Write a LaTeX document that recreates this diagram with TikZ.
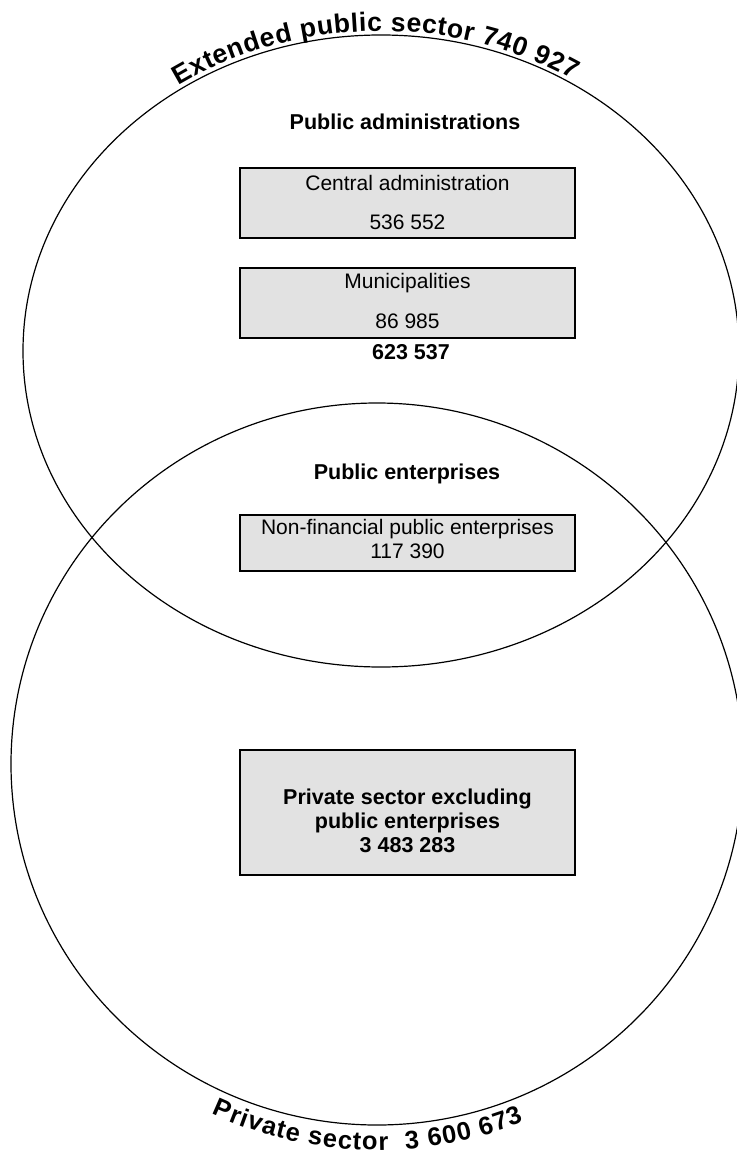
\documentclass[tikz,border=0pt]{standalone}
\usepackage{fontspec}
\setmainfont{Liberation Sans}
\usepackage{xcolor}
\usepackage{tikz}
\usetikzlibrary{positioning,calc,decorations.text}
\definecolor{boxgray}{HTML}{E2E2E2}
\begin{document}
\begin{tikzpicture}[
    x=1pt,y=1pt,
    secteur/.style = {draw=black,line width=1.2pt},
    boite/.style   = {rectangle,draw=black,line width=1.6pt,fill=boxgray,
                      minimum width=335,inner sep=0pt},
    txt/.style     = {anchor=base,inner sep=0pt,font=\fontsize{21}{24}\selectfont},
    titre/.style   = {anchor=base,inner sep=0pt,font=\fontsize{21.5}{24}\selectfont\bfseries},
  ]

  \useasboundingbox (0,0) rectangle (736,-1155);

  % the two sectors
  \coordinate (pubc)  at (381,-351);
  \coordinate (privc) at (377,-764);
  \draw[secteur] (pubc)  ellipse[x radius=358,y radius=316];
  \draw[secteur] (privc) ellipse[x radius=366,y radius=361];

  \path[decorate,decoration={text along path,text align={fit to path},
        text={|\fontsize{26.5}{26}\selectfont\bfseries|Extended public sector 740 927}}]
       ($(pubc)+(124:362 and 320)$) arc[start angle=124,end angle=58,
                                        x radius=362,y radius=320];
  \path[decorate,decoration={text along path,text align={fit to path},
        text={|\fontsize{25.5}{26}\selectfont\bfseries|Private sector {\ }3 600 673}}]
       ($(privc)+(245:391 and 386)$) arc[start angle=245,end angle=292,
                                         x radius=391,y radius=386];

  % public administrations
  \node[titre] (admtitre) at (405,-130) {Public administrations};
  \node[boite,minimum height=70] (cenbox) at (407.5,-203) {};
  \node[txt] (cennom) at ($(cenbox.north)+(0,-23)$) {Central administration};
  \node[txt] (cenval) at ($(cenbox.north)+(0,-62)$) {536 552};
  \node[boite,minimum height=70] (munbox) at (407.5,-303) {};
  \node[txt] (munnom) at ($(munbox.north)+(0,-21)$) {Municipalities};
  \node[txt] (munval) at ($(munbox.north)+(0,-61)$) {86 985};
  \node[titre] (admtotal) at (411,-359) {623 537};

  % public enterprises
  \node[titre] (enttitre) at (407,-479) {Public enterprises};
  \node[boite,minimum height=56] (nfbox) at (407.5,-543) {};
  \node[txt] (nfnom) at ($(nfbox.north)+(0,-20)$) {Non-financial public enterprises};
  \node[txt] (nfval) at ($(nfbox.north)+(0,-44)$) {117 390};

  % private sector
  \node[boite,minimum height=125] (privbox) at (407.5,-812.5) {};
  \node[titre] (priv1) at ($(privbox.north)+(0,-55)$) {Private sector excluding};
  \node[titre] (priv2) at ($(privbox.north)+(0,-79)$) {public enterprises};
  \node[titre] (priv3) at ($(privbox.north)+(0,-103)$) {3 483 283};

\end{tikzpicture}
\end{document}
